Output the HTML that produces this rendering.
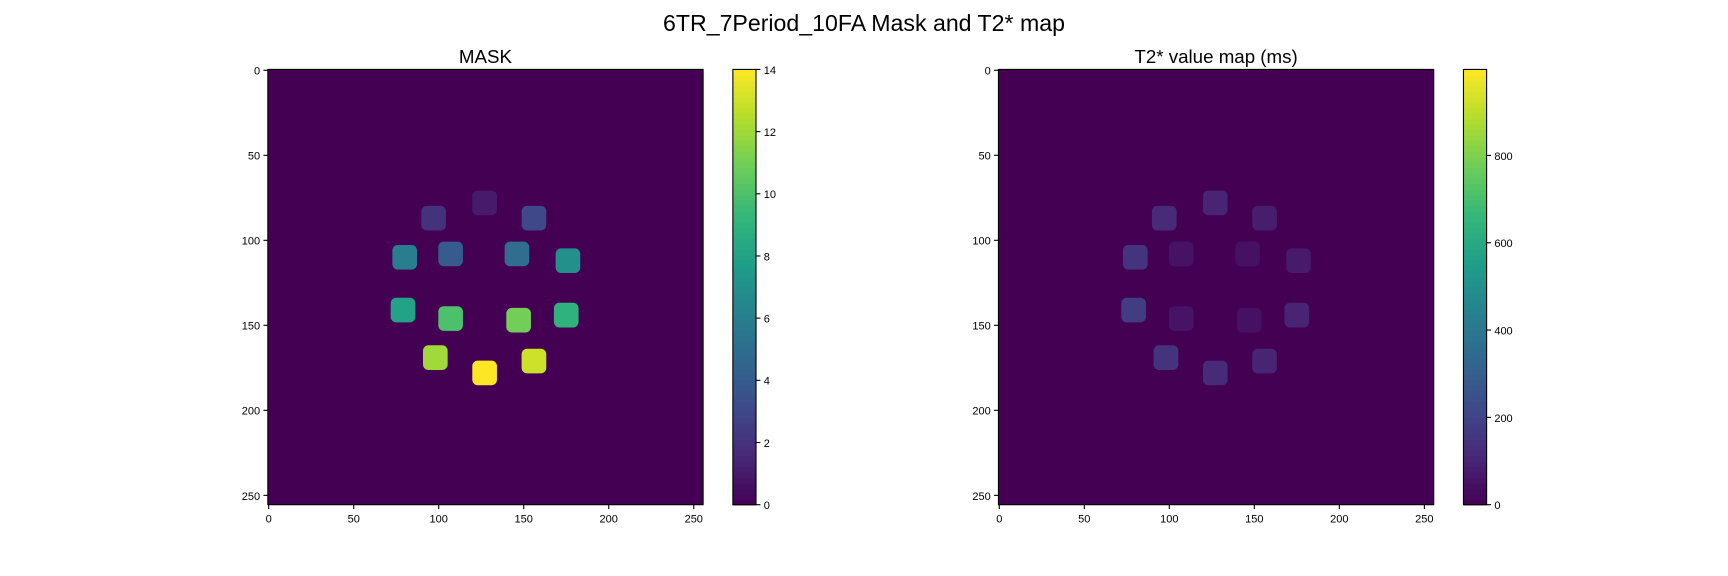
<!DOCTYPE html>
<html><head><meta charset="utf-8"><style>
body{margin:0;background:#fff;}
svg{display:block;font-family:"Liberation Sans","DejaVu Sans",sans-serif;}
</style></head><body>
<svg id="fig" width="1728" height="576" viewBox="0 0 1568 522.7">
<text x="784" y="28" font-size="21" text-anchor="middle">6TR_7Period_10FA Mask and T2* map</text>
</svg>
<script>
const blobX = [127, 97, 156, 107, 146, 80, 176, 79, 175, 107, 147, 98, 156, 127];
const blobY = [78, 87, 87, 108, 108, 110, 112, 141, 144, 146, 147, 169, 171, 178];
const maskValues = [1, 2, 3, 4, 5, 6, 7, 8, 9, 10, 11, 12, 13, 14];
const t2Values = [100, 120, 80, 50, 45, 150, 70, 180, 100, 55, 45, 150, 100, 120];
const maskTicks = [0, 2, 4, 6, 8, 10, 12, 14];
const t2Ticks = [0, 200, 400, 600, 800];
const axisTicks = [0, 50, 100, 150, 200, 250];

const NS = "http://www.w3.org/2000/svg";
const fig = document.getElementById('fig');
const VIR = [[68,1,84],[72,40,120],[62,74,137],[49,104,142],[38,130,142],[31,158,137],[53,183,121],[109,205,89],[180,222,44],[253,231,37]];
function viridis(t){t=Math.max(0,Math.min(1,t));const p=t*(VIR.length-1);const i=Math.min(Math.floor(p),VIR.length-2);const f=p-i;
 const c=VIR[i].map((v,k)=>Math.round(v+(VIR[i+1][k]-v)*f));return `rgb(${c[0]},${c[1]},${c[2]})`;}
function el(tag,attrs,parent){const e=document.createElementNS(NS,tag);for(const k in attrs)e.setAttribute(k,attrs[k]);(parent||fig).appendChild(e);return e;}

function panel(x0,title,values,vmax,cbTicks,name){
 const y0=63,W=395,H=395,s=W/256,B=14.5;
 const sx=v=>x0+(v+0.5)*s, sy=v=>y0+(v+0.5)*s;
 const g=el('g',{});
 
 
 const t=el('text',{x:x0+W/2,y:57,'font-size':17,'text-anchor':'middle'},g);t.textContent=title;
 
 
 const bg=el('rect',{x:x0,y:y0,width:W,height:H,fill:viridis(0)},g);
 
 
 for(let i=0;i<blobX.length;i++){
  const r=el('rect',{x:sx(blobX[i]-B/2),y:sy(blobY[i]-B/2),width:B*s,height:B*s,rx:5,fill:viridis(values[i]/vmax)},g);
  
  
 }
 el('rect',{x:x0,y:y0,width:W,height:H,fill:'none',stroke:'#000','stroke-width':1},g);
 axisTicks.forEach(v=>{
  el('line',{x1:sx(v),x2:sx(v),y1:y0+H,y2:y0+H+4,stroke:'#000'},g);
  const a=el('text',{x:sx(v),y:y0+H+16,'font-size':10,'text-anchor':'middle'},g);a.textContent=v;
  
  
  el('line',{x1:x0-4,x2:x0,y1:sy(v),y2:sy(v),stroke:'#000'},g);
  const b=el('text',{x:x0-7,y:sy(v)+4,'font-size':10,'text-anchor':'end'},g);b.textContent=v;
  
  
 });
 const cx=x0+422,cw=21;
 const cb=el('g',{},g);
 
 
 const N=80;
 for(let k=0;k<N;k++){el('rect',{x:cx,y:y0+H-(k+1)*H/N,width:cw,height:H/N+0.6,fill:viridis((k+0.5)/N)},cb);}
 el('rect',{x:cx,y:y0,width:cw,height:H,fill:'none',stroke:'#000'},cb);
 cbTicks.forEach(v=>{const yy=y0+H-v/vmax*H;
  el('line',{x1:cx+cw,x2:cx+cw+4,y1:yy,y2:yy,stroke:'#000'},cb);
  const tt=el('text',{x:cx+cw+7,y:yy+4,'font-size':10},cb);tt.textContent=v;
  
  
 });
}
panel(243,'MASK',maskValues,14,maskTicks,'mask');
panel(906,'T2* value map (ms)',t2Values,997,t2Ticks,'t2-map');
</script>
</body></html>
